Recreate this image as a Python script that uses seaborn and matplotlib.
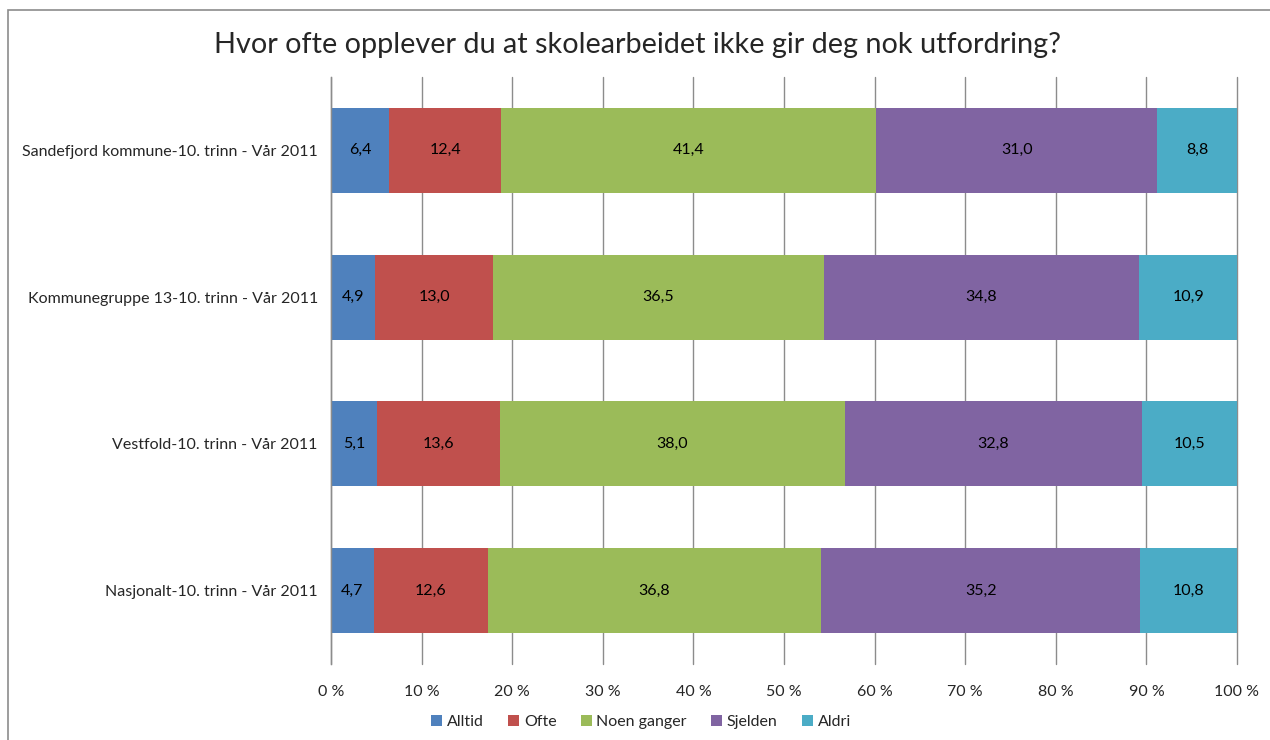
import numpy as np
import pandas as pd
import seaborn as sns
import matplotlib.pyplot as plt
from matplotlib.patches import Patch, Rectangle

### data
groups = ['Sandefjord kommune-10. trinn - Vår 2011',
          'Kommunegruppe 13-10. trinn - Vår 2011',
          'Vestfold-10. trinn - Vår 2011',
          'Nasjonalt-10. trinn - Vår 2011']
series = ['Alltid', 'Ofte', 'Noen ganger', 'Sjelden', 'Aldri']
alltid = [6.4, 4.9, 5.1, 4.7]
ofte = [12.4, 13.0, 13.6, 12.6]
noen_ganger = [41.4, 36.5, 38.0, 36.8]
sjelden = [31.0, 34.8, 32.8, 35.2]
aldri = [8.8, 10.9, 10.5, 10.8]
colors = ['#4F81BD', '#C0504D', '#9BBB59', '#8064A2', '#4BACC6']
xticks = list(range(0, 101, 10))

sns.set_theme(style='white')
plt.rcParams['font.family'] = ['Lato', 'DejaVu Sans']

df = pd.DataFrame({'group': groups, 'Alltid': alltid, 'Ofte': ofte,
                   'Noen ganger': noen_ganger, 'Sjelden': sjelden, 'Aldri': aldri})
cum = df[series].cumsum(axis=1)

fig = plt.figure(figsize=(12.7, 7.4), dpi=100)
ax = fig.add_axes([331 / 1270, 1 - 664 / 740, 906 / 1270, 587 / 740])

# stacked bars: draw cumulative totals from the back to the front
for s, c in reversed(list(zip(series, colors))):
    sns.barplot(x=cum[s], y=df['group'], color=c, orient='h', width=0.58,
                saturation=1, linewidth=0, ax=ax, zorder=2)

# data labels in the middle of each segment
for i in range(len(groups)):
    left = 0
    for s in series:
        v = df.loc[i, s]
        ax.text(left + v / 2, i, f'{v:.1f}'.replace('.', ','), ha='center',
                va='center', fontsize=11.5, color='black', zorder=3)
        left += v

ax.set_xlim(0, 100)
ax.set_ylim(3.5, -0.5)
ax.set_xticks(xticks)
ax.set_xticklabels([f'{t} %' for t in xticks], fontsize=11.5)
ax.tick_params(axis='x', length=0, pad=15)
ax.tick_params(axis='y', length=0, pad=9.5, labelsize=11.5)
ax.set_xlabel('')
ax.set_ylabel('')
ax.xaxis.grid(True, color='#8c8c8c', linewidth=1)
for gl in ax.get_xgridlines():
    gl.set_clip_on(False)
ax.set_axisbelow(True)
for side in ['top', 'right', 'bottom']:
    ax.spines[side].set_visible(False)
ax.spines['left'].set_color('#8c8c8c')
ax.spines['left'].set_linewidth(1)

fig.text(637 / 1270, 1 - 45 / 740, 'Hvor ofte opplever du at skolearbeidet ikke gir deg nok utfordring?',
         ha='center', va='center', fontsize=20.8)

handles = [Patch(facecolor=c, edgecolor='none') for c in colors]
fig.legend(handles, series, loc='center', bbox_to_anchor=(641 / 1270, 1 - 722 / 740),
           ncol=5, frameon=False, fontsize=11.5, handlelength=0.7, handleheight=0.7,
           handletextpad=0.3, columnspacing=1.5)

# chart border (only left and top visible in the reference)
fig.patches.append(Rectangle((7.5 / 1270, -0.1), 1.2, 1 - 9.5 / 740 + 0.1,
                             transform=fig.transFigure, fill=False,
                             edgecolor='#8c8c8c', linewidth=1.2))

fig.savefig('out.png', dpi=100)
